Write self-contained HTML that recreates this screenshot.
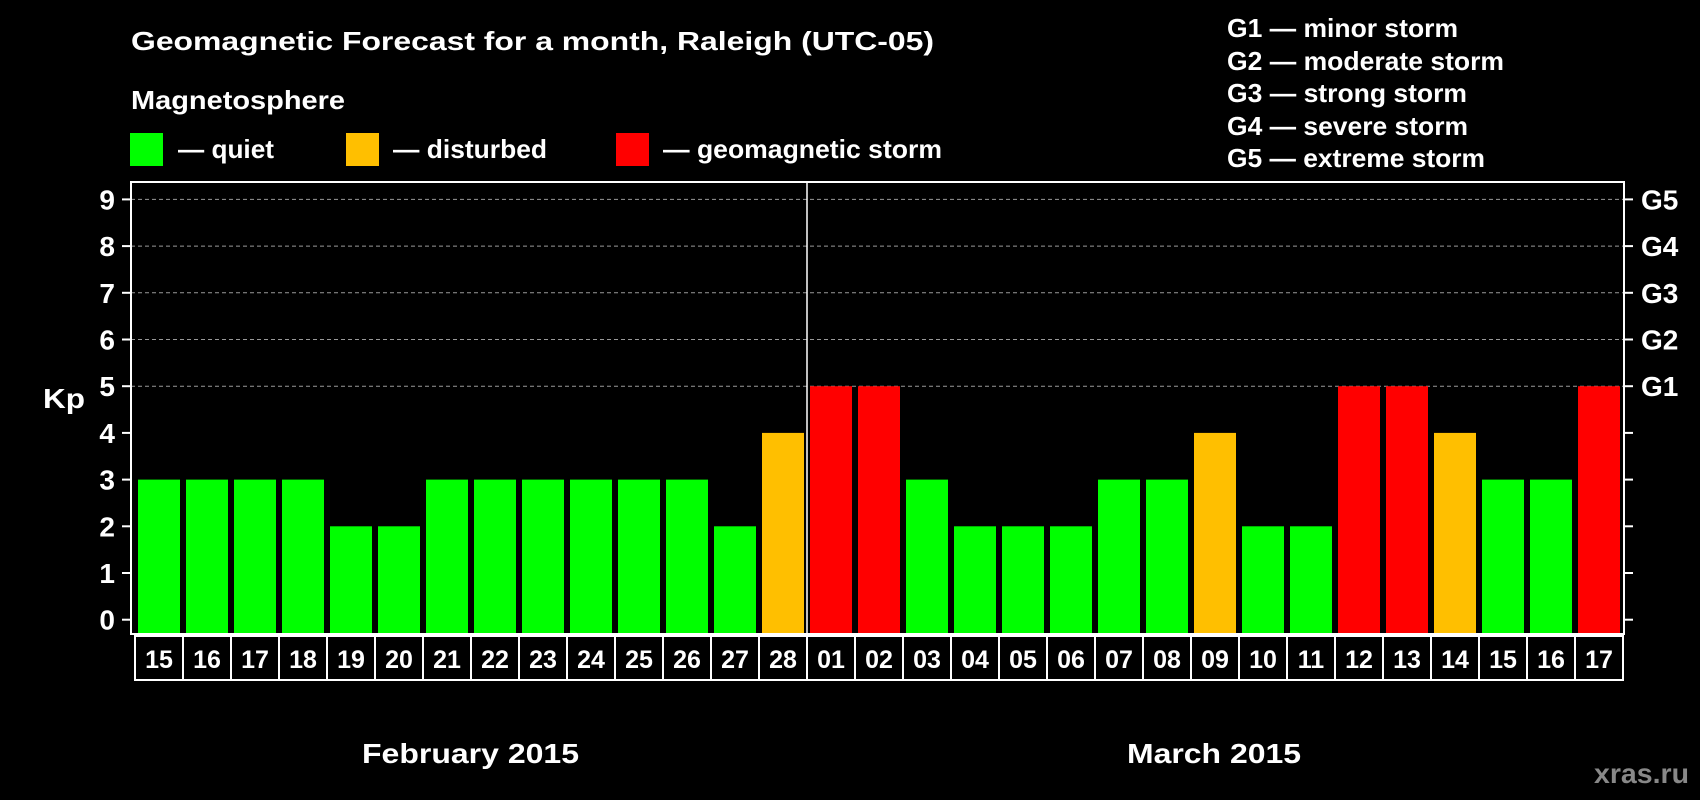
<!DOCTYPE html>
<html><head><meta charset="utf-8"><style>
html,body{margin:0;padding:0;background:#000;width:1700px;height:800px;overflow:hidden}
svg text{font-family:"Liberation Sans",Arial,sans-serif;font-weight:bold;fill:#fff}
</style></head><body>
<svg id="chart" width="1700" height="800" xmlns="http://www.w3.org/2000/svg">
<rect width="1700" height="800" fill="#000"/>
<text x="131" y="50" font-size="26" textLength="803" lengthAdjust="spacingAndGlyphs">Geomagnetic Forecast for a month, Raleigh (UTC-05)</text>
<text x="131" y="109" font-size="26" textLength="214" lengthAdjust="spacingAndGlyphs">Magnetosphere</text>
<g><rect x="130" y="133" width="33" height="33" fill="#00ff00"/><text x="178" y="158" font-size="26" textLength="96" lengthAdjust="spacingAndGlyphs">— quiet</text></g>
<g><rect x="346" y="133" width="33" height="33" fill="#ffbf00"/><text x="393" y="158" font-size="26" textLength="154" lengthAdjust="spacingAndGlyphs">— disturbed</text></g>
<g><rect x="616" y="133" width="33" height="33" fill="#ff0000"/><text x="663" y="158" font-size="26" textLength="279" lengthAdjust="spacingAndGlyphs">— geomagnetic storm</text></g>
<g font-size="26">
<text x="1227" y="37" textLength="231" lengthAdjust="spacingAndGlyphs">G1 — minor storm</text>
<text x="1227" y="70" textLength="277" lengthAdjust="spacingAndGlyphs">G2 — moderate storm</text>
<text x="1227" y="102" textLength="240" lengthAdjust="spacingAndGlyphs">G3 — strong storm</text>
<text x="1227" y="135" textLength="241" lengthAdjust="spacingAndGlyphs">G4 — severe storm</text>
<text x="1227" y="167" textLength="258" lengthAdjust="spacingAndGlyphs">G5 — extreme storm</text>
</g>
<g id="grid"></g>
<g id="bars"></g>
<rect x="131" y="182" width="1493" height="452" fill="none" stroke="#fff" stroke-width="2"/>
<line x1="807" y1="182" x2="807" y2="634" stroke="#fff" stroke-width="1.5"/>
<g id="yaxis"></g>
<g id="xaxis"></g>
<text x="43" y="408" font-size="28" textLength="42" lengthAdjust="spacingAndGlyphs">Kp</text>
<text x="362" y="763" font-size="28" textLength="217" lengthAdjust="spacingAndGlyphs">February 2015</text>
<text x="1127" y="763" font-size="28" textLength="174" lengthAdjust="spacingAndGlyphs">March 2015</text>
<text x="1594" y="783" font-size="28" textLength="95" lengthAdjust="spacingAndGlyphs" style="fill:#888">xras.ru</text>
</svg>
<script>
const days = ["15","16","17","18","19","20","21","22","23","24","25","26","27","28","01","02","03","04","05","06","07","08","09","10","11","12","13","14","15","16","17"];
const kp = [3,3,3,3,2,2,3,3,3,3,3,3,2,4,5,5,3,2,2,2,3,3,4,2,2,5,5,4,3,3,5];
const yTicks = [0,1,2,3,4,5,6,7,8,9];
const gLabels = ["","","","","","G1","G2","G3","G4","G5"];
const NS="http://www.w3.org/2000/svg";
const y0=619.7, unit=46.7, x0=138, pitch=48, bw=42;
function yScale(v){return y0-v*unit;}
function xScale(i){return x0+i*pitch;}
function mk(t,a){const e=document.createElementNS(NS,t);for(const k in a)e.setAttribute(k,a[k]);return e;}
const grid=document.getElementById('grid'),bars=document.getElementById('bars'),ya=document.getElementById('yaxis'),xa=document.getElementById('xaxis');
yTicks.forEach((v,i)=>{
  const y=yScale(v);
  if(v>=5){const g=mk('line',{x1:131,x2:1624,y1:y,y2:y,stroke:'#999','stroke-width':1,'stroke-dasharray':'4,3'});
  
  
  grid.appendChild(g);}
  const t1=mk('line',{x1:122,x2:131,y1:y,y2:y,stroke:'#fff','stroke-width':2});
  
  
  ya.appendChild(t1);
  const t2=mk('line',{x1:1624,x2:1633,y1:y,y2:y,stroke:'#fff','stroke-width':2});
  
  
  ya.appendChild(t2);
  const l=mk('text',{x:115,y:y+10,'font-size':28,'text-anchor':'end'});l.textContent=v;
  
  
  ya.appendChild(l);
  if(gLabels[i]){const r=mk('text',{x:1641,y:y+10,'font-size':28});r.textContent=gLabels[i];
  
  
  ya.appendChild(r);}
});
kp.forEach((v,i)=>{
  const c=v>=5?'#ff0000':(v>=4?'#ffbf00':'#00ff00');
  const top=yScale(v);
  const b=mk('rect',{x:xScale(i),y:top,width:bw,height:634-top,fill:c});
  
  
  bars.appendChild(b);
  const cx=xScale(i)-3;
  const cell=mk('rect',{x:cx,y:636,width:pitch,height:44,fill:'none',stroke:'#fff','stroke-width':2});
  
  
  xa.appendChild(cell);
  const t=mk('text',{x:cx+pitch/2,y:668,'font-size':25,'text-anchor':'middle'});t.textContent=days[i];
  
  
  xa.appendChild(t);
});
</script>
</body></html>
